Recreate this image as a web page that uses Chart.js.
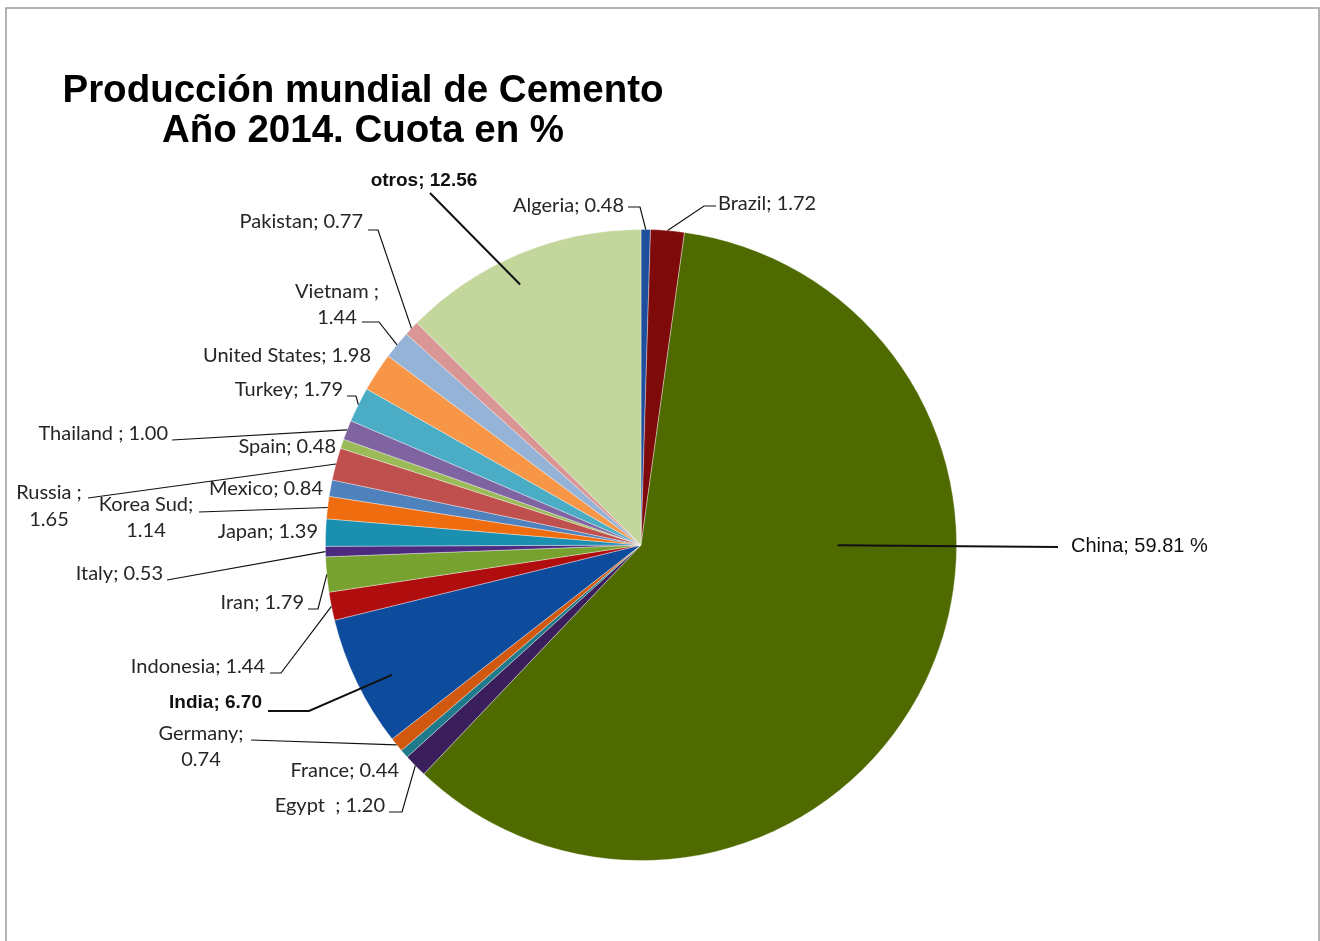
<!DOCTYPE html>
<html>
<head>
<meta charset="utf-8">
<script src="https://cdn.jsdelivr.net/npm/chart.js@4/dist/chart.umd.min.js"></script>
<style>
  html, body { margin: 0; padding: 0; background: #fff; }
  canvas { display: block; }
</style>
</head>
<body>
<canvas id="myChart" width="1320" height="941"></canvas>
<script>
// datos: produccion mundial de cemento 2014, cuota en %
const paises = ['Algeria', 'Brazil', 'China', 'Egypt ', 'France', 'Germany', 'India', 'Indonesia', 'Iran', 'Italy',
    'Japan', 'Korea Sud', 'Mexico', 'Russia ', 'Spain', 'Thailand ', 'Turkey', 'United States', 'Vietnam ', 'Pakistan', 'otros'];
const cuota = [0.48, 1.72, 59.81, 1.20, 0.44, 0.74, 6.70, 1.44, 1.79, 0.53,
    1.39, 1.14, 0.84, 1.65, 0.48, 1.00, 1.79, 1.98, 1.44, 0.77, 12.56];
const etiquetas = ['Algeria; 0.48', 'Brazil; 1.72', 'China; 59.81 %', 'Egypt  ; 1.20', 'France; 0.44', 'Germany;|0.74',
    'India; 6.70', 'Indonesia; 1.44', 'Iran; 1.79', 'Italy; 0.53', 'Japan; 1.39', 'Korea Sud;|1.14', 'Mexico; 0.84',
    'Russia ;|1.65', 'Spain; 0.48', 'Thailand ; 1.00', 'Turkey; 1.79', 'United States; 1.98', 'Vietnam ;|1.44',
    'Pakistan; 0.77', 'otros; 12.56'];
const colores = ['#1F4E9C', '#7F0A0A', '#4F6B00', '#3B1F5C', '#1F7A8C', '#D1590F', '#0D4C9C', '#B00E0E', '#78A22F', '#4B2A80',
    '#1B8FB0', '#F06D0F', '#4F81BD', '#C0504D', '#9BBB59', '#8064A2', '#4BACC6', '#F79646', '#95B3D7', '#D99694', '#C3D69B'];

const labelFont = '20px Lato, "Noto Sans", sans-serif';
const arialFont = '20px "Liberation Sans", Arial, sans-serif';
const arialBold = 'bold 19px "Liberation Sans", Arial, sans-serif';

// posicion de cada etiqueta (texto y quiebre de la linea guia)
// t = posicion angular dentro del sector, r = fraccion del radio
const layoutEtiquetas = [
    {x: 624, y: 206, align: 'right', line: [[628, 207], [640, 207]]},
    {x: 718, y: 204, align: 'left', line: [[716, 206], [704, 206]]},
    {x: 1071, y: 546, align: 'left', font: arialFont, color: '#111', line: [[1058, 547]], t: 0.381, r: 0.623},
    {x: 385, y: 806, align: 'right', line: [[389, 812], [402, 812]]},
    {x: 399, y: 771, align: 'right'},
    {x: 201, y: 734, align: 'center', lh: 26, line: [[251, 740]]},
    {x: 262, y: 703, align: 'right', font: arialBold, color: '#111', line: [[268, 711], [309, 711]], t: 0.43, r: 0.89},
    {x: 265, y: 667, align: 'right', line: [[270, 673], [281, 673]]},
    {x: 304, y: 603, align: 'right', line: [[308, 609], [318, 609]]},
    {x: 163, y: 574, align: 'right', line: [[167, 580]]},
    {x: 318, y: 532, align: 'right'},
    {x: 146, y: 505, align: 'center', lh: 26, line: [[199, 512]]},
    {x: 323, y: 489, align: 'right'},
    {x: 49, y: 493, align: 'center', lh: 27, line: [[88, 498]]},
    {x: 336, y: 447, align: 'right'},
    {x: 168, y: 434, align: 'right', line: [[172, 440]]},
    {x: 343, y: 390, align: 'right', line: [[347, 396], [356, 396]]},
    {x: 371, y: 356, align: 'right'},
    {x: 337, y: 292, align: 'center', lh: 26, line: [[362, 322], [379, 322]]},
    {x: 363, y: 222, align: 'right', line: [[368, 230], [378, 230]]},
    {x: 424, y: 181, align: 'center', font: arialBold, color: '#111', line: [[430, 193]], t: 0.45, r: 0.91}
];

const marco = {
    id: 'marco',
    beforeDraw(chart) {
        const c = chart.ctx;
        c.save();
        c.fillStyle = '#fff';
        c.fillRect(0, 0, chart.width, chart.height);
        c.strokeStyle = '#9a9a9a';
        c.lineWidth = 1.5;
        c.strokeRect(6, 8, 1313, 960);
        // titulo
        c.fillStyle = '#000';
        c.font = 'bold 38.5px "Liberation Sans", Arial, sans-serif';
        c.textAlign = 'center';
        c.textBaseline = 'middle';
        c.fillText('Producción mundial de Cemento', 363, 91);
        c.fillText('Año 2014. Cuota en %', 363, 131);
        c.restore();
    }
};

const rotulos = {
    id: 'rotulos',
    afterDraw(chart) {
        const c = chart.ctx;
        const arcs = chart.getDatasetMeta(0).data;
        c.save();
        arcs.forEach((arc, i) => {
            const L = layoutEtiquetas[i];
            const txt = etiquetas[i].split('|');
            c.font = L.font || labelFont;
            c.fillStyle = L.color || '#262626';
            c.textAlign = L.align;
            c.textBaseline = 'middle';
            txt.forEach((s, k) => c.fillText(s, L.x, L.y + k * (L.lh || 0)));
            if (L.line) {
                const t = L.t === undefined ? 0.5 : L.t;
                const r = (L.r === undefined ? 1 : L.r) * arc.outerRadius;
                const a = arc.startAngle + (arc.endAngle - arc.startAngle) * t;
                c.beginPath();
                c.moveTo(L.line[0][0], L.line[0][1]);
                L.line.slice(1).forEach(p => c.lineTo(p[0], p[1]));
                c.lineTo(arc.x + Math.cos(a) * r, arc.y + Math.sin(a) * r);
                c.strokeStyle = '#111';
                c.lineWidth = (i === 2 || i === 6 || i === 20) ? 2 : 1.2;
                c.stroke();
            }
        });
        c.restore();
    }
};

const ctx = document.getElementById('myChart').getContext('2d');
const myChart = new Chart(ctx, {
    type: 'pie',
    data: {
        labels: paises,
        datasets: [{
            data: cuota,
            backgroundColor: colores,
            borderColor: 'rgba(255,255,255,0.45)',
            borderWidth: 0.8
        }]
    },
    options: {
        responsive: false,
        animation: false,
        layout: { padding: { left: 325, right: 363, top: 229, bottom: 80 } },
        plugins: {
            legend: { display: false },
            title: { display: false },
            tooltip: { enabled: false }
        }
    },
    plugins: [marco, rotulos]
});
</script>
</body>
</html>
